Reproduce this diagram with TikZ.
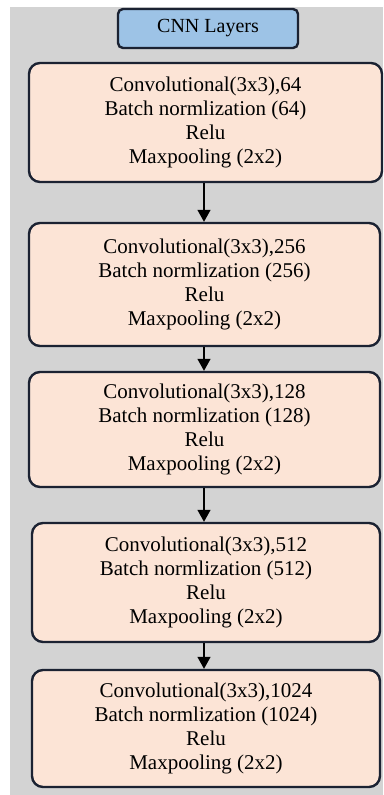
\documentclass[tikz,border=0pt]{standalone}
\usepackage{fontspec}
\setmainfont{Liberation Serif}
\usetikzlibrary{arrows.meta}
\definecolor{bggray}{HTML}{D3D3D3}
\definecolor{peach}{HTML}{FCE4D6}
\definecolor{titleblue}{HTML}{9DC3E6}
\definecolor{edge}{HTML}{1B2232}
\tikzset{
  layerbox/.style={draw=edge, line width=2.4pt, fill=peach, rounded corners=11pt,
    align=center, inner sep=0pt, font=\fontsize{21}{24}\selectfont},
  titlebox/.style={draw=edge, line width=2.4pt, fill=titleblue, rounded corners=5pt,
    minimum width=180pt, minimum height=39pt, inner sep=0pt, font=\fontsize{20}{24}\selectfont},
  flow/.style={draw=black, line width=1.4pt, -{Triangle[length=12pt,width=13pt]}}
}
\begin{document}
\begin{tikzpicture}[x=1pt,y=-1pt]
\useasboundingbox (0,0) rectangle (383,795);
\fill[white] (0,0) rectangle (383,795);
\fill[bggray] (10,7) rectangle (383,795);
\coordinate (ax) at (204,0);
\node[titlebox] (t) at (208,28.5) {CNN Layers};
\node[layerbox, minimum width=353pt, minimum height=119pt] (b1) at (205.5,122.5)
  {Convolutional(3x3),64\\Batch normlization (64)\\Relu\\Maxpooling (2x2)};
\node[layerbox, minimum width=351pt, minimum height=123pt] (b2) at (204.5,284.5)
  {Convolutional(3x3),256\\Batch normlization (256)\\Relu\\Maxpooling (2x2)};
\node[layerbox, minimum width=351pt, minimum height=115pt] (b3) at (204.5,429.5)
  {Convolutional(3x3),128\\Batch normlization (128)\\Relu\\Maxpooling (2x2)};
\node[layerbox, minimum width=348pt, minimum height=119pt] (b4) at (206,582.5)
  {Convolutional(3x3),512\\Batch normlization (512)\\Relu\\Maxpooling (2x2)};
\node[layerbox, minimum width=348pt, minimum height=117pt] (b5) at (206,728.5)
  {Convolutional(3x3),1024\\Batch normlization (1024)\\Relu\\Maxpooling (2x2)};
\draw[flow] (b1.south -| ax) -- (b2.north -| ax);
\draw[flow] (b2.south -| ax) -- (b3.north -| ax);
\draw[flow] (b3.south -| ax) -- (b4.north -| ax);
\draw[flow] (b4.south -| ax) -- (b5.north -| ax);
\end{tikzpicture}
\end{document}
